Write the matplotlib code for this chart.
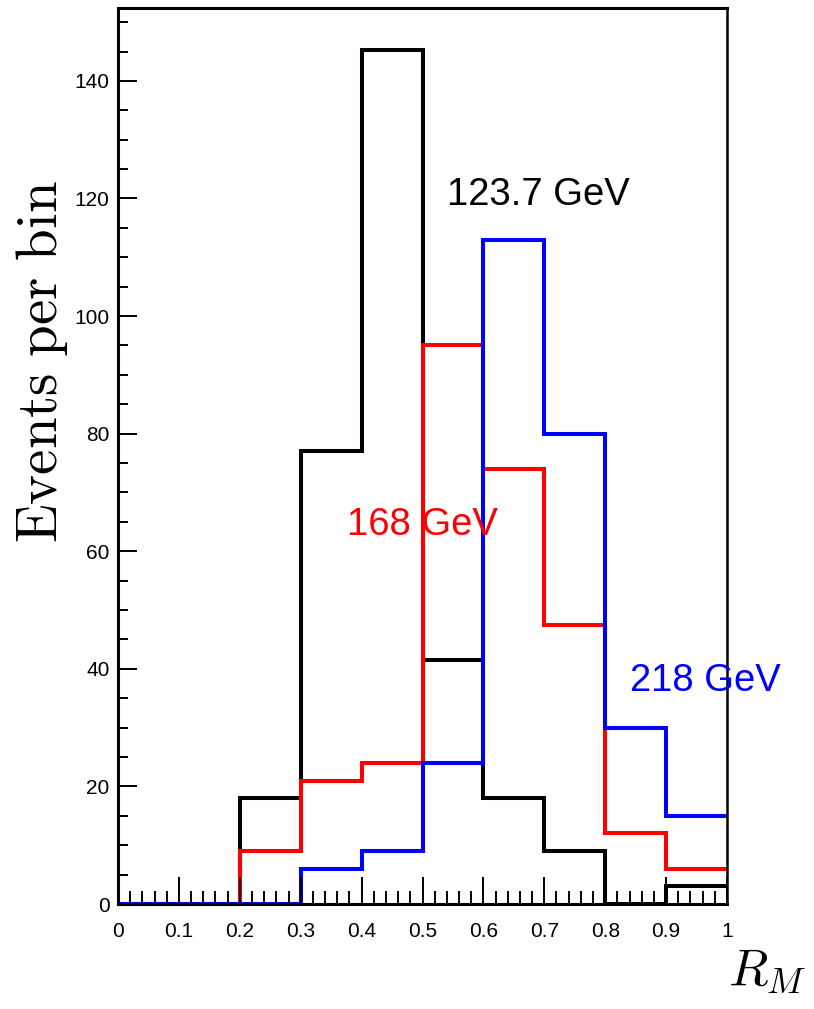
import numpy as np
import matplotlib
matplotlib.use("Agg")
import matplotlib.pyplot as plt
from matplotlib.ticker import MultipleLocator

# Bin edges of R_M and event counts per bin for each mass hypothesis
bin_edges = np.linspace(0.0, 1.0, 11)
counts_123 = [0, 0, 18, 77, 145.3, 41.5, 18, 9, 0, 3]
counts_168 = [0, 0, 9, 21, 24, 95, 74, 47.5, 12, 6]
counts_218 = [0, 0, 0, 6, 9, 24, 113, 80, 30, 15]
labels = ["123.7 GeV", "168 GeV", "218 GeV"]
colors = ["black", "red", "blue"]
label_pos = [(0.540, 118.9), (0.376, 62.8), (0.841, 36.2)]

plt.rcParams["mathtext.fontset"] = "cm"
plt.rcParams["font.family"] = ["Liberation Sans", "DejaVu Sans"]

fig = plt.figure(figsize=(8.14, 10.09), dpi=100)
ax = fig.add_axes([118 / 814, 105 / 1009, 609 / 814, 896 / 1009])

for counts, c in zip([counts_123, counts_168, counts_218], colors):
    ax.stairs(counts, bin_edges, baseline=None, color=c, lw=2.9, clip_on=False)

for text, c, (x, y) in zip(labels, colors, label_pos):
    ax.text(x, y, text, color=c, fontsize=27.5, ha="left", va="baseline")

ax.set_xlim(0, 1)
ax.set_ylim(0, 152.4)

ax.xaxis.set_major_locator(MultipleLocator(0.1))
ax.xaxis.set_minor_locator(MultipleLocator(0.02))
ax.yaxis.set_major_locator(MultipleLocator(20))
ax.yaxis.set_minor_locator(MultipleLocator(5))
ax.xaxis.set_major_formatter(plt.FuncFormatter(lambda v, p: f"{v:g}"))

ax.tick_params(axis="x", which="major", direction="in", length=19.5, width=1.4,
               labelsize=15, pad=13, top=False)
ax.tick_params(axis="x", which="minor", direction="in", length=9.5, width=1.4, top=False)
ax.tick_params(axis="y", which="major", direction="in", length=13.7, width=1.4,
               labelsize=15, pad=6, right=False)
ax.tick_params(axis="y", which="minor", direction="in", length=7, width=1.4, right=False)

for side in ["left", "bottom", "top"]:
    ax.spines[side].set_linewidth(2.2)
ax.spines["right"].set_linewidth(1.8)

fig.text(42 / 814, (1009 - 362) / 1009, r"$\mathrm{Events\ per\ bin}$",
         rotation=90, ha="center", va="center", fontsize=41)
fig.text(807 / 814, (1009 - 985) / 1009, r"$R_M$", ha="right", va="baseline", fontsize=37)

fig.savefig("out.png", dpi=100)
